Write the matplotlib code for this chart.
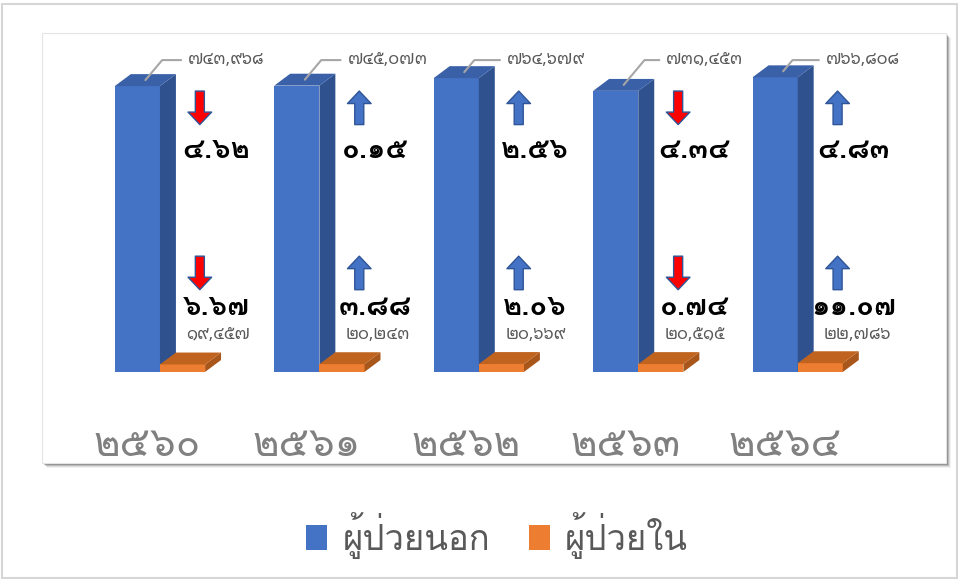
import matplotlib
matplotlib.use("Agg")
import matplotlib.pyplot as plt
from matplotlib.patches import Polygon, Rectangle
from matplotlib.transforms import blended_transform_factory

# ข้อมูล (ปี พ.ศ.)
years = [2560, 2561, 2562, 2563, 2564]
outpatient = [743968, 745073, 764679, 731453, 766808]
inpatient = [19457, 20243, 20669, 20515, 22786]
out_change = [-4.62, 0.15, 2.56, -4.34, 4.83]   # % เปลี่ยนแปลง ผู้ป่วยนอก
in_change = [-6.67, 3.88, 2.06, -0.74, 11.07]   # % เปลี่ยนแปลง ผู้ป่วยใน
series_names = ["ผู้ป่วยนอก", "ผู้ป่วยใน"]

THAI_DIGITS = str.maketrans("0123456789", "๐๑๒๓๔๕๖๗๘๙")


def thai(s):
    return str(s).translate(THAI_DIGITS)


plt.rcParams['font.family'] = ['Noto Sans Thai Looped', 'DejaVu Sans']
LOMA = ['Loma', 'DejaVu Sans']

W, H = 960, 581
fig = plt.figure(figsize=(W / 100, H / 100), dpi=100)


def box(x0, y0, x1, y1):  # pixel box -> figure fraction
    return (x0 / W, 1 - y1 / H), (x1 - x0) / W, (y1 - y0) / H


# outer frame
xy, bw, bh = box(2, 4, 957, 578)
fig.patches.append(Rectangle(xy, bw, bh, transform=fig.transFigure,
                             fill=False, ec='#d6d6d6', lw=1.5, zorder=-3))
# panel with soft shadow
for k, a in enumerate([0.22, 0.15, 0.09, 0.05]):
    xy, bw, bh = box(44 + k, 35 + k, 948 + k, 465 + k)
    fig.patches.append(Rectangle(xy, bw, bh, transform=fig.transFigure,
                                 fc='black', ec='none', alpha=a, zorder=-2))
xy, bw, bh = box(42, 33, 946, 463)
fig.patches.append(Rectangle(xy, bw, bh, transform=fig.transFigure,
                             fc='white', ec='#e4e4e4', lw=0.8, zorder=-1))

ax = fig.add_axes([42 / W, 1 - 463 / H, 904 / W, 430 / H])
ax.set_facecolor('none')
ax.set_xlim(-0.74, 4.93)
ax.set_ylim(-237000, 882000)
ax.axis('off')
blend = blended_transform_factory(ax.transData, ax.transAxes)

x = list(range(len(years)))
w = 0.283          # bar width
DX, DY = 0.1, 31000  # 3D depth

blue, blue_side, blue_top = '#4472C4', '#2F528F', '#3A60A8'
orange, orange_side, orange_top = '#ED7D31', '#A9561B', '#C0631F'

b1 = ax.bar([i - w for i in x], outpatient, width=w, align='edge', color=blue, zorder=2)
b2 = ax.bar(x, inpatient, width=w, align='edge', color=orange, zorder=3)


def depth(x0, x1, h, side, top, z):
    ax.add_patch(Polygon([(x1, 0), (x1 + DX, DY), (x1 + DX, h + DY), (x1, h)],
                         closed=True, fc=side, ec='none', zorder=z))
    ax.add_patch(Polygon([(x0, h), (x0 + DX, h + DY), (x1 + DX, h + DY), (x1, h)],
                         closed=True, fc=top, ec='none', zorder=z))


for i in x:
    depth(i - w, i, outpatient[i], blue_side, blue_top, 2)
    depth(i, i + w, inpatient[i], orange_side, orange_top, 3)

    # ป้ายค่า ผู้ป่วยนอก พร้อมเส้นชี้
    ax.annotate(thai(f"{outpatient[i]:,}"),
                xy=(i - w / 2 + DX / 2, outpatient[i] + DY / 2),
                xytext=(i + 0.176, 0.937), textcoords=blend,
                ha='left', va='center', fontsize=12, color='#595959',
                arrowprops=dict(arrowstyle='-', color='#a6a6a6', lw=1.5,
                                shrinkA=3, shrinkB=0,
                                connectionstyle='angle,angleA=0,angleB=50,rad=0'),
                zorder=5)
    # ป้ายค่า ผู้ป่วยใน
    ax.text(i + 0.165, 0.298, thai(f"{inpatient[i]:,}"), transform=blend,
            ha='left', va='center', fontsize=12, color='#595959', zorder=5)

    # ลูกศร + เปอร์เซ็นต์
    for chg, yc, yt in [(out_change[i], 0.826, 0.728), (in_change[i], 0.442, 0.362)]:
        up = chg >= 0
        y0, y1 = (yc - 0.039, yc + 0.039) if up else (yc + 0.039, yc - 0.039)
        ax.annotate("", xy=(i + 0.25, y1), xytext=(i + 0.25, y0),
                    xycoords=blend, textcoords=blend,
                    arrowprops=dict(arrowstyle='simple,head_length=0.9,head_width=1.7,tail_width=0.65',
                                    fc=blue if up else '#FF0000', ec='#2F5597', lw=1,
                                    shrinkA=0, shrinkB=0, mutation_scale=10),
                    zorder=5)
        ax.text(i + 0.352, yt, thai(f"{abs(chg):.2f}"), transform=blend,
                ha='center', va='center', fontsize=21, fontweight='bold',
                family=LOMA, color='black', zorder=5)

    # ปี
    ax.text(i - 0.078, 0.04, thai(years[i]), transform=blend,
            ha='center', va='center', fontsize=29, family=LOMA, color='#808080')

fig.legend([b1, b2], series_names, loc='center', bbox_to_anchor=(0.518, 0.079),
           ncol=2, frameon=False, handlelength=0.6, handleheight=0.75,
           handletextpad=0.45, columnspacing=1.1, labelcolor='#595959',
           prop={'family': LOMA, 'size': 25})

fig.savefig("out.png", dpi=100)
